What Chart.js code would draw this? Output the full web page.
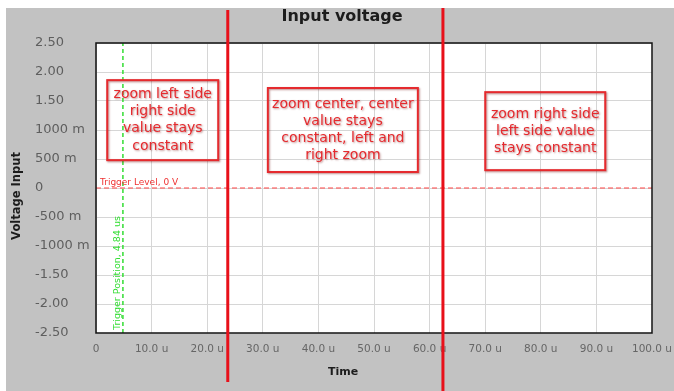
<!DOCTYPE html>
<html>
<head>
<meta charset="utf-8">
<script src="https://cdn.jsdelivr.net/npm/chart.js@4"></script>
<style>
  html, body { margin: 0; padding: 0; background: #fff; }
  #wrap { width: 674px; height: 391px; position: relative; }
</style>
</head>
<body>
<div id="wrap"><canvas id="chart-voltage"></canvas></div>
<script>
"use strict";

// axis ticks (time in u, voltage in V)
const timeTicks = [0, 10, 20, 30, 40, 50, 60, 70, 80, 90, 100];
const timeTickLabels = ['0', '10.0 u', '20.0 u', '30.0 u', '40.0 u', '50.0 u', '60.0 u', '70.0 u', '80.0 u', '90.0 u', '100.0 u'];
const voltTicks = [2.5, 2, 1.5, 1, 0.5, 0, -0.5, -1, -1.5, -2, -2.5];
const voltTickLabels = ['2.50', '2.00', '1.50', '1000 m', '500 m', '0', '-500 m', '-1000 m', '-1.50', '-2.00', '-2.50'];

// trigger + cursors
const triggerLevel = 0;
const triggerPosition = 4.84;
const cursorTimes = [23.7, 62.4];

// notes
const noteTexts = [
  ['zoom left side', 'right side', 'value stays', 'constant'],
  ['zoom center, center', 'value stays', 'constant, left and', 'right zoom'],
  ['zoom right side', 'left side value', 'stays constant']
];
const noteTimes = [12.0, 44.4, 80.8];
const noteVolts = [1.17, 1.0, 0.98];

const FONT = "'DejaVu Sans', Verdana, sans-serif";
const RED = '#e52a2e';

// box sizes for the notes (w, h), drawing only
const noteBoxes = [[111, 80], [150, 84], [120, 78]];
// top/bottom pixel extent for the two cursors
const cursorExtent = [[10, 382], [8, 391]];

function labelFor(list, labels, value) {
  const i = list.findIndex(v => Math.abs(v - value) < 1e-9);
  return i >= 0 ? labels[i] : '';
}

const backgroundPlugin = {
  id: 'background',
  beforeDraw(chart) {
    const {ctx, chartArea: a, width, height} = chart;
    ctx.save();
    ctx.fillStyle = '#ffffff';
    ctx.fillRect(0, 0, width, height);
    ctx.fillStyle = '#c2c2c2';
    ctx.fillRect(6, 8, width - 6, height - 8);
    ctx.fillStyle = '#ffffff';
    ctx.fillRect(a.left, a.top, a.right - a.left, a.bottom - a.top);
    ctx.restore();
  }
};

const overlayPlugin = {
  id: 'overlay',
  afterDraw(chart) {
    const {ctx, chartArea: a} = chart;
    const xs = chart.scales.x;
    const ys = chart.scales.y;
    ctx.save();

    // plot frame
    ctx.strokeStyle = '#111';
    ctx.lineWidth = 1.5;
    ctx.strokeRect(a.left, a.top, a.right - a.left, a.bottom - a.top);

    // trigger level label
    ctx.fillStyle = '#ee3333';
    ctx.font = '9px ' + FONT;
    ctx.textAlign = 'left';
    ctx.textBaseline = 'bottom';
    const yLevel = ys.getPixelForValue(triggerLevel);
    ctx.fillText('Trigger Level, 0 V', a.left + 4, yLevel - 1);

    // trigger position label
    const xPos = xs.getPixelForValue(triggerPosition);
    ctx.save();
    ctx.translate(xPos - 1, a.bottom - 3);
    ctx.rotate(-Math.PI / 2);
    ctx.fillStyle = '#33dd33';
    ctx.font = '9.5px ' + FONT;
    ctx.textAlign = 'left';
    ctx.textBaseline = 'bottom';
    ctx.fillText('Trigger Position, 4.84 us', 0, 0);
    ctx.restore();

    // note boxes
    noteTexts.forEach((lines, i) => {
      const cx = xs.getPixelForValue(noteTimes[i]);
      const cy = ys.getPixelForValue(noteVolts[i]);
      const [w, h] = noteBoxes[i];
      ctx.save();
      ctx.shadowColor = 'rgba(110, 0, 0, 0.45)';
      ctx.shadowBlur = 2;
      ctx.shadowOffsetX = 1;
      ctx.shadowOffsetY = 1;
      ctx.strokeStyle = RED;
      ctx.lineWidth = 2;
      ctx.strokeRect(cx - w / 2, cy - h / 2, w, h);
      ctx.fillStyle = RED;
      ctx.font = '14px ' + FONT;
      ctx.textAlign = 'center';
      ctx.textBaseline = 'middle';
      const lh = 17.2;
      const y0 = cy - (lines.length - 1) * lh / 2;
      lines.forEach((t, j) => ctx.fillText(t, cx, y0 + j * lh));
      ctx.restore();
    });

    // cursors
    cursorTimes.forEach((t, i) => {
      const x = xs.getPixelForValue(t);
      ctx.beginPath();
      ctx.strokeStyle = '#e8101a';
      ctx.lineWidth = 3;
      ctx.moveTo(x, cursorExtent[i][0]);
      ctx.lineTo(x, cursorExtent[i][1]);
      ctx.stroke();
    });

    // titles
    ctx.fillStyle = '#1c1c1c';
    ctx.textAlign = 'center';
    ctx.textBaseline = 'middle';
    ctx.font = 'bold 16px ' + FONT;
    ctx.fillText('Input voltage', 342, 17);
    ctx.font = 'bold 11px ' + FONT;
    ctx.fillText('Time', 343, 372);
    ctx.save();
    ctx.translate(17, 196);
    ctx.rotate(-Math.PI / 2);
    ctx.font = 'bold 11.5px ' + FONT;
    ctx.fillText('Voltage Input', 0, 0);
    ctx.restore();

    ctx.restore();
  }
};

const chart = new Chart(document.getElementById('chart-voltage').getContext('2d'), {
  type: 'line',
  data: {
    datasets: [{
      label: 'Trigger level',
      data: [{x: timeTicks[0], y: triggerLevel}, {x: timeTicks[timeTicks.length - 1], y: triggerLevel}],
      borderColor: '#ff4444',
      borderWidth: 1,
      borderDash: [5, 3],
      pointRadius: 0
    }, {
      label: 'Trigger position',
      data: [{x: triggerPosition, y: voltTicks[voltTicks.length - 1]}, {x: triggerPosition, y: voltTicks[0]}],
      borderColor: '#33dd33',
      borderWidth: 1.5,
      borderDash: [4, 3],
      pointRadius: 0
    }]
  },
  options: {
    responsive: true,
    maintainAspectRatio: false,
    animation: false,
    devicePixelRatio: 1,
    layout: { padding: { left: 35, top: 43, right: 22, bottom: 0 } },
    plugins: {
      legend: { display: false },
      tooltip: { enabled: false },
      title: { display: false }
    },
    scales: {
      x: {
        type: 'linear',
        min: timeTicks[0],
        max: timeTicks[timeTicks.length - 1],
        afterFit(s) { s.height = 58; s.paddingLeft = 0; s.paddingRight = 0; },
        afterBuildTicks(s) { s.ticks = timeTicks.map(v => ({value: v})); },
        grid: { color: '#d6d6d6', drawTicks: false },
        border: { display: false },
        ticks: {
          padding: 10,
          maxRotation: 0,
          autoSkip: false,
          color: '#666666',
          font: { family: FONT, size: 10.5 },
          callback: v => labelFor(timeTicks, timeTickLabels, v)
        }
      },
      y: {
        min: voltTicks[voltTicks.length - 1],
        max: voltTicks[0],
        afterFit(s) { s.width = 61; s.paddingTop = 0; s.paddingBottom = 0; },
        afterBuildTicks(s) { s.ticks = voltTicks.slice().reverse().map(v => ({value: v})); },
        grid: { color: '#d6d6d6', drawTicks: false },
        border: { display: false },
        ticks: {
          crossAlign: 'far',
          autoSkip: false,
          color: '#5e5e5e',
          font: { family: FONT, size: 13 },
          callback: v => labelFor(voltTicks, voltTickLabels, v)
        }
      }
    }
  },
  plugins: [backgroundPlugin, overlayPlugin]
});
</script>
</body>
</html>
